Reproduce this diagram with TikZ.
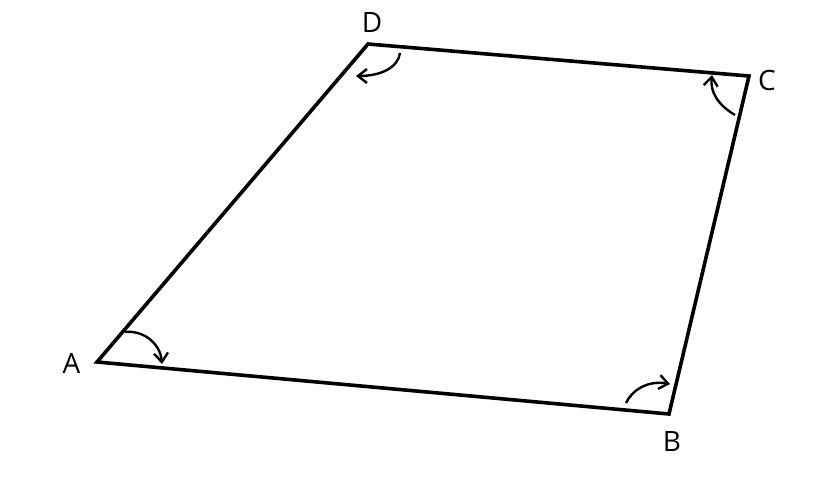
\documentclass[tikz,border=0pt]{standalone}
\usepackage{fontspec}
\setmainfont{Open Sans}
\usetikzlibrary{arrows.meta}

\begin{document}
\begin{tikzpicture}[x=1pt,y=-1pt,{side/.style={black,line width=3.6pt,line join=miter}},{turn/.style={black,line width=2.4pt,-{Straight Barb[length=9pt,width=14pt,line width=2.4pt]}}},{lab/.style={font=\fontsize{28}{30}\selectfont,inner sep=0pt}}]
		\useasboundingbox (0,0) rectangle (832,488);
		%%corners
		\coordinate (A) at (97,362);
		\coordinate (B) at (669,414);
		\coordinate (C) at (749,76);
		\coordinate (D) at (368,44);
		%%labels
		\node at (71.5,363) [lab] (la) {A};
		\node at (672,441) [lab] (lb) {B};
		\node at (767,80) [lab] (lc) {C};
		\node at (372,23) [lab] (ld) {D};
		%%border
		\draw [side] (A) -- (B) -- (C) -- (D) -- cycle;
		%%angle arrows
		\draw [turn] (125,332) .. controls (142,330) and (160,342) .. (162,364);
		\draw [turn] (626,403) .. controls (632,390) and (648,380) .. (670,384);
		\draw [turn] (735,115) .. controls (718,105) and (710,92) .. (712,75);
		\draw [turn] (400,53) .. controls (398,68) and (380,76) .. (356,76);
	\end{tikzpicture}
\end{document}
